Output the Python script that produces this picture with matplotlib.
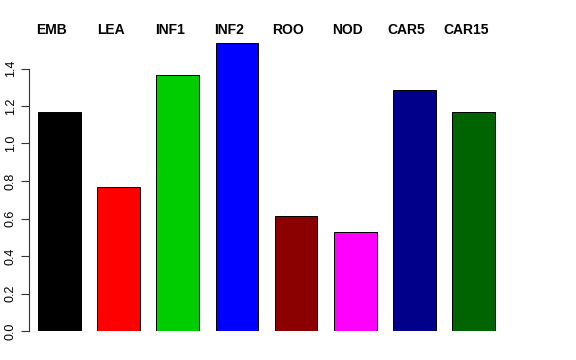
import matplotlib
matplotlib.use("Agg")
import matplotlib.pyplot as plt
import numpy as np

categories = ["EMB", "LEA", "INF1", "INF2", "ROO", "NOD", "CAR5", "CAR15"]
values = [1.17, 0.77, 1.366, 1.535, 0.612, 0.528, 1.284, 1.168]
colors = ["#000000", "#FF0000", "#00CD00", "#0000FF", "#8B0000", "#FF00FF", "#00008B", "#006400"]
yticks = [0.0, 0.2, 0.4, 0.6, 0.8, 1.0, 1.2, 1.4]

plt.rcParams['font.family'] = ['Liberation Sans', 'DejaVu Sans']

fig = plt.figure(figsize=(5.76, 3.6), dpi=100)
W, H = 576, 360
left_px, right_px = 29, 520
bottom_px, top_px = 331, 31
ax = fig.add_axes([left_px / W, (H - bottom_px) / H, (right_px - left_px) / W, (bottom_px - top_px) / H])

spacing = 59.2
x = np.arange(len(categories))
ax.bar(x, values, width=42.5 / spacing, color=colors, edgecolor="black", linewidth=0.7)

ax.set_xlim((left_px - 59.3) / spacing, (right_px - 59.3) / spacing)
ax.set_ylim(0, 1.6)

for s in ["top", "right", "bottom"]:
    ax.spines[s].set_visible(False)
ax.spines["left"].set_bounds(0, 1.4)
ax.spines["left"].set_linewidth(0.8)
ax.spines["left"].set_color("#333333")
ax.set_xticks([])
ax.set_yticks(yticks)
ax.set_yticklabels([f"{t:.1f}" for t in yticks], rotation=90, va="center", fontsize=9)
ax.tick_params(axis="y", length=5.8, width=0.8, pad=3.0, color="#333333")

for i, c in enumerate(categories):
    fig.text((59.3 + spacing * i - 8) / W, (H - 30) / H, c, ha="center", va="center",
             fontsize=10, fontweight="bold")

fig.savefig("out.png", dpi=100)
